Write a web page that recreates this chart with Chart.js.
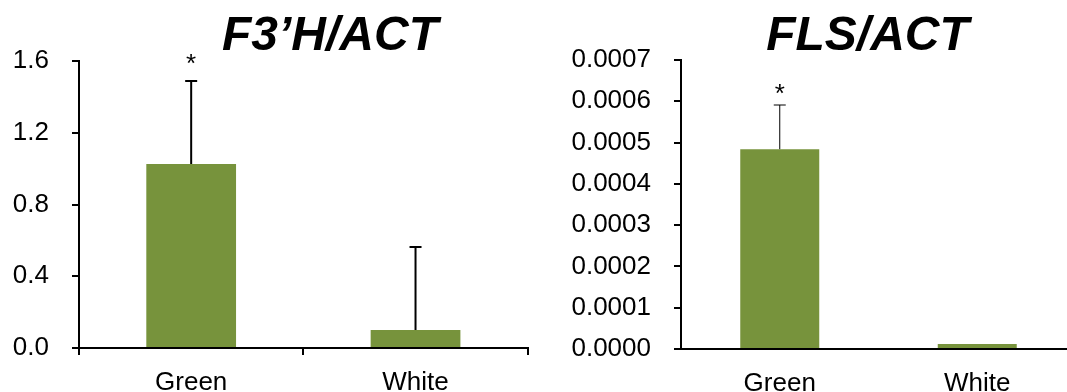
<!DOCTYPE html>
<html>
<head>
<meta charset="utf-8">
<script src="https://cdn.jsdelivr.net/npm/chart.js@4.4.1/dist/chart.umd.min.js"></script>
<style>
  html, body { margin: 0; padding: 0; background: #ffffff; }
  body { width: 1067px; height: 392px; position: relative; overflow: hidden; }
  .box { position: absolute; top: 0; height: 392px; }
  #boxL { left: 0; width: 533px; }
  #boxR { left: 533px; width: 560px; }
</style>
</head>
<body>
<div class="box" id="boxL"><canvas id="chartL"></canvas></div>
<div class="box" id="boxR"><canvas id="chartR"></canvas></div>
<script>
// ---- data ----
const categories = ['Green', 'White'];
const f3hTitle = 'F3\u2019H/ACT';
const f3hValues = [1.026, 0.100];
const f3hErrors = [0.462, 0.463];
const f3hTicks = [0.0, 0.4, 0.8, 1.2, 1.6];
const flsTitle = 'FLS/ACT';
const flsValues = [0.000484, 0.000012];
const flsErrors = [0.000107, 0];
const flsTicks = [0.0000, 0.0001, 0.0002, 0.0003, 0.0004, 0.0005, 0.0006, 0.0007];
const significance = ['*', ''];

const FONT = '"Liberation Sans", Arial, Helvetica, sans-serif';
const BAR_COLOR = '#77933C';

const errorBarPlugin = {
  id: 'errorBars',
  afterDatasetsDraw(chart, args, opts) {
    const ctx = chart.ctx;
    const meta = chart.getDatasetMeta(0);
    const yScale = chart.scales.y;
    const vals = chart.data.datasets[0].data;
    ctx.save();
    ctx.strokeStyle = '#000';
    ctx.fillStyle = '#000';
    ctx.lineWidth = opts.lineWidth;
    meta.data.forEach((bar, i) => {
      const v = vals[i];
      const e = opts.errors[i] || 0;
      const yBar = yScale.getPixelForValue(v);
      const yTop = yScale.getPixelForValue(v + e);
      if (e > 0) {
        ctx.beginPath();
        ctx.moveTo(bar.x, yBar);
        ctx.lineTo(bar.x, yTop);
        ctx.moveTo(bar.x - opts.capWidth / 2, yTop);
        ctx.lineTo(bar.x + opts.capWidth / 2, yTop);
        ctx.stroke();
      }
      if (opts.marks[i]) {
        ctx.font = '26px ' + FONT;
        ctx.textAlign = 'center';
        ctx.textBaseline = 'alphabetic';
        ctx.fillText(opts.marks[i], bar.x, yTop - opts.markGap);
      }
    });
    ctx.restore();
  }
};

const titlePlugin = {
  id: 'customTitle',
  afterDraw(chart, args, opts) {
    const ctx = chart.ctx;
    ctx.save();
    ctx.font = 'italic bold 48px ' + FONT;
    ctx.fillStyle = '#000';
    ctx.textAlign = 'center';
    ctx.textBaseline = 'alphabetic';
    ctx.fillText(opts.text, opts.x, opts.y);
    ctx.restore();
  }
};

function makeChart(id, cfg) {
  return new Chart(document.getElementById(id), {
    type: 'bar',
    data: {
      labels: categories,
      datasets: [{
        data: cfg.values,
        backgroundColor: BAR_COLOR,
        borderWidth: 0,
        barPercentage: 0.4,
        categoryPercentage: 1.0
      }]
    },
    plugins: [errorBarPlugin, titlePlugin],
    options: {
      responsive: true,
      maintainAspectRatio: false,
      animation: false,
      layout: { padding: { left: 0, right: cfg.padRight, top: cfg.top, bottom: 0 } },
      plugins: {
        legend: { display: false },
        tooltip: { enabled: false },
        title: { display: false },
        errorBars: { errors: cfg.errors, marks: significance, lineWidth: cfg.errWidth, capWidth: 12, markGap: cfg.markGap },
        customTitle: { text: cfg.title, x: cfg.titleX, y: 50 }
      },
      scales: {
        x: {
          grid: { display: true, drawOnChartArea: false, offset: true, tickLength: 7, lineWidth: 2,
                  color: cfg.xTicks ? '#000' : 'rgba(0,0,0,0)' },
          border: { display: true, color: '#000', width: 2 },
          ticks: { color: '#000', font: { family: FONT, size: 26 }, padding: 12, maxRotation: 0 },
          afterFit: (s) => { s.height = cfg.xHeight; }
        },
        y: {
          min: cfg.ticks[0],
          max: cfg.ticks[cfg.ticks.length - 1],
          afterBuildTicks: (s) => { s.ticks = cfg.ticks.map(v => ({ value: v })); },
          grid: { display: true, drawOnChartArea: false, tickLength: 7, lineWidth: 2, color: '#000' },
          border: { display: true, color: '#000', width: 2 },
          ticks: { color: '#000', font: { family: FONT, size: 26 }, padding: 23,
                   callback: (v) => Number(v).toFixed(cfg.decimals) },
          afterFit: (s) => { s.width = cfg.yWidth; }
        }
      }
    }
  });
}

makeChart('chartL', {
  values: f3hValues, errors: f3hErrors, ticks: f3hTicks, decimals: 1,
  title: f3hTitle, titleX: 330, top: 61, padRight: 5.3, xHeight: 44, yWidth: 79,
  errWidth: 2, xTicks: true, markGap: 9
});
makeChart('chartR', {
  values: flsValues, errors: flsErrors, ticks: flsTicks, decimals: 4,
  title: flsTitle, titleX: 334.5, top: 60, padRight: 17, xHeight: 43, yWidth: 148,
  errWidth: 1, xTicks: false, markGap: 3
});
</script>
</body>
</html>
